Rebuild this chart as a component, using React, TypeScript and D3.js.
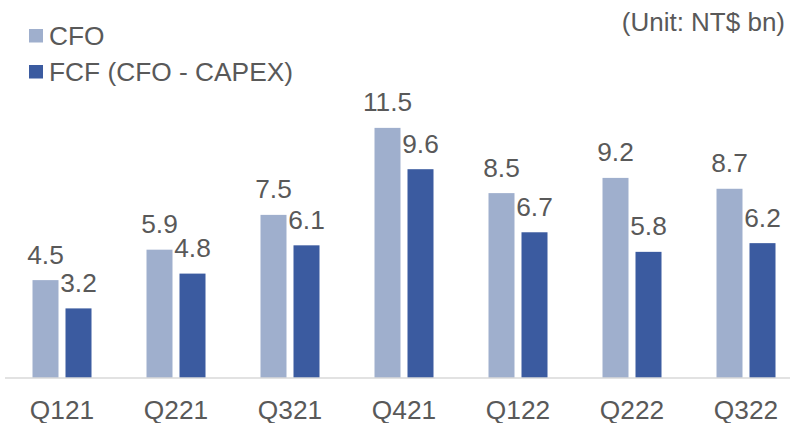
import React from "react";
import * as d3 from "d3";

const quarters = ["Q121", "Q221", "Q321", "Q421", "Q122", "Q222", "Q322"];
const cfo = [4.5, 5.9, 7.5, 11.5, 8.5, 9.2, 8.7];
const fcf = [3.2, 4.8, 6.1, 9.6, 6.7, 5.8, 6.2];
const seriesNames = ["CFO", "FCF (CFO - CAPEX)"];
const seriesColors = ["#9FAFCD", "#3B5BA0"];

const W = 790;
const H = 423;
const baseY = 378;
const font = "'Liberation Sans', Arial, sans-serif";
const textColor = "#595959";
const fs = 26.3;

export default function App() {
  const x = d3.scaleBand<string>().domain(quarters).range([5, 803]);
  const xInner = d3
    .scaleBand<number>()
    .domain([0, 1])
    .range([27.5, 86.5])
    .paddingInner(7 / 33);
  const y = d3.scaleLinear().domain([0, 12]).range([baseY, 117]);

  const series = [cfo, fcf];

  return (
    <svg
      width={W}
      height={H}
      style={{ position: "absolute", left: 0, top: 0, background: "#fff" }}
      fontFamily={font}
    >
      {/* bars + value labels */}
      {series.map((vals, s) =>
        vals.map((v, i) => {
          const bx = (x(quarters[i]) ?? 0) + (xInner(s) ?? 0);
          const bw = xInner.bandwidth();
          return (
            <g key={`${s}-${i}`}>
              <rect
                x={bx}
                y={y(v)}
                width={bw}
                height={baseY - y(v)}
                fill={seriesColors[s]}
              />
              <text
                x={bx + bw / 2}
                y={y(v) - 16.5}
                textAnchor="middle"
                fontSize={fs}
                fill={textColor}
              >
                {v.toFixed(1)}
              </text>
            </g>
          );
        })
      )}

      {/* axis */}
      <line x1={5} x2={W} y1={baseY} y2={baseY} stroke="#D9D9D9" strokeWidth={1.5} />
      {quarters.map((q) => (
        <text
          key={q}
          x={(x(q) ?? 0) + x.bandwidth() / 2}
          y={418.5}
          textAnchor="middle"
          fontSize={fs}
          fill={textColor}
        >
          {q}
        </text>
      ))}

      {/* legend */}
      {seriesNames.map((name, s) => (
        <g key={name} transform={`translate(29, ${29 + s * 36})`}>
          <rect width={14} height={13.5} fill={seriesColors[s]} />
          <text x={20} y={16} fontSize={fs} fill={textColor}>
            {name}
          </text>
        </g>
      ))}

      <text x={785} y={31} textAnchor="end" fontSize={26} fill={textColor}>
        (Unit: NT$ bn)
      </text>
    </svg>
  );
}
